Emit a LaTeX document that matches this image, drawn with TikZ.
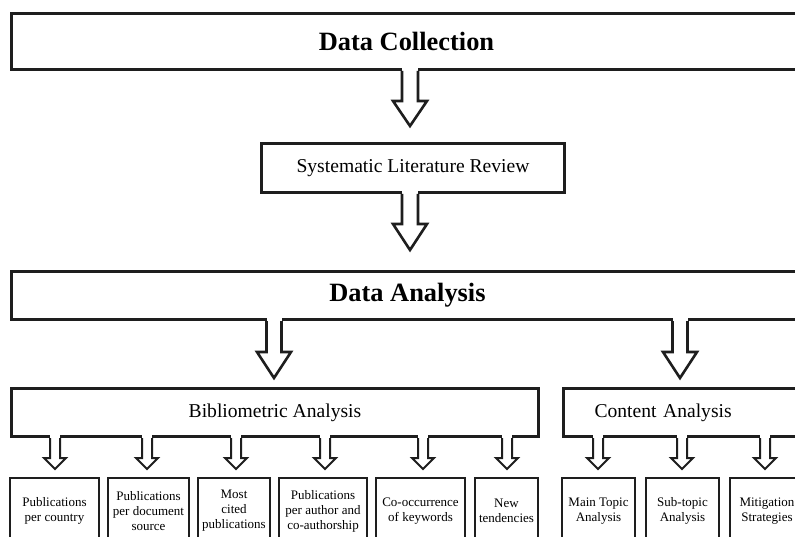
\documentclass[tikz,border=0pt]{standalone}
\usepackage{fontspec}
\setmainfont{Liberation Serif}
\usetikzlibrary{calc}
\definecolor{ink}{HTML}{1E1E1E}
\tikzset{
  bigbox/.style={draw=ink, line width=3pt, rectangle, anchor=north west, inner sep=0pt, text=black, align=center},
  smallbox/.style={draw=ink, line width=2pt, rectangle, anchor=north west, inner sep=1pt, text=black, align=center,
     minimum height=66pt, font=\fontsize{13}{15}\selectfont},
  titlefont/.style={font=\fontsize{26.4}{30}\selectfont\bfseries},
  midfont/.style={font=\fontsize{19.6}{23}\selectfont},
}
\newcommand{\blockarrow}[7]{% #1 source node, #2 x, #3 shaft length, #4 head length, #5 shaft half width, #6 head half width, #7 line width
  \coordinate (ax) at (#2,0);
  \coordinate (bt) at (#1.south -| ax);
  \fill[white] ($(bt)+(-#5,-4)$) rectangle ($(bt)+(#5,#3)$);
  \draw[draw=ink, line width=#7, line join=miter]
    ($(bt)+(-#5,0)$) -- ++(0,#3) -- ++({-(#6-#5)},0) -- ++(#6,#4) -- ++(#6,-#4) -- ++({-(#6-#5)},0) -- ++(0,-#3);
}
\begin{document}
\begin{tikzpicture}[x=1pt,y=-1pt]
\useasboundingbox (0,0) rectangle (795,537);
\clip (0,0) rectangle (795,537);
\fill[white] (0,0) rectangle (795,537);

% main boxes
\node[bigbox, titlefont, minimum width=790pt, minimum height=56pt] (dc) at (10,12) {Data Collection};
\node[bigbox, midfont, minimum width=303pt, minimum height=49pt] (slr) at (260,142) {Systematic Literature Review};
\node[bigbox, titlefont, minimum width=792pt, minimum height=48pt] (da) at (10,270) {Data Analysis};
\node[bigbox, midfont, minimum width=527pt, minimum height=48pt] (ba) at (10,387) {Bibliometric Analysis};
\node[bigbox, midfont, minimum height=48pt, text width=260pt, align=left, inner xsep=31pt] (ca) at (562,387) {Content Analysis};

% bottom boxes
\node[smallbox, minimum width=89pt] (b1) at (9,477) {Publications\\per country};
\node[smallbox, minimum width=81pt] (b2) at (107,477) {Publications\\per document\\source};
\node[smallbox, minimum width=72pt] (b3) at (197,477) {Most\\cited\\publications};
\node[smallbox, minimum width=88pt] (b4) at (278,477) {Publications\\per author and\\co-authorship};
\node[smallbox, minimum width=89pt] (b5) at (375,477) {Co-occurrence\\of keywords};
\node[smallbox, minimum width=63pt] (b6) at (474,477) {New\\tendencies};
\node[smallbox, minimum width=73pt] (b7) at (561,477) {Main Topic\\Analysis};
\node[smallbox, minimum width=73pt] (b8) at (645,477) {Sub-topic\\Analysis};
\node[smallbox, minimum width=74pt] (b9) at (729,477) {Mitigation\\Strategies};

% big arrows
\blockarrow{dc}{410}{30}{25}{8}{17}{2.6pt}
\blockarrow{slr}{410}{30}{26}{8}{17}{2.6pt}
\blockarrow{da}{274}{31}{26}{7.5}{17}{2.6pt}
\blockarrow{da}{680}{31}{26}{7.5}{17}{2.6pt}

% small arrows
\foreach \xx in {55,147,236,325,423,507}{\blockarrow{ba}{\xx}{20}{11}{5}{11}{2pt}}
\foreach \xx in {598,682,765}{\blockarrow{ca}{\xx}{20}{11}{5}{11}{2pt}}
\end{tikzpicture}
\end{document}
